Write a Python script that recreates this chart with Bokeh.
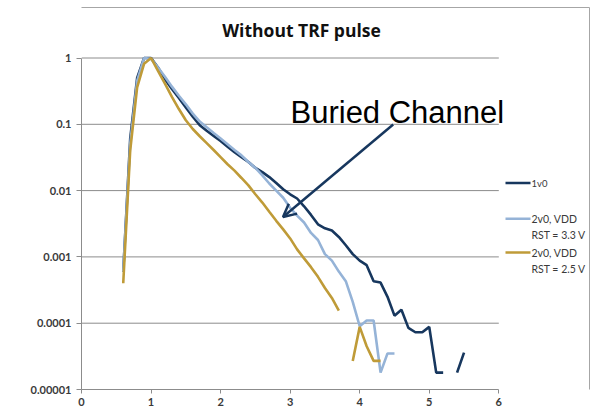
import math
from bokeh.plotting import figure
from bokeh.models import (Range1d, FixedTicker, Label, Arrow, OpenHead)
from bokeh.embed import file_html
from bokeh.resources import INLINE

# ---------------- data ----------------
x_1v0 = [0.6, 0.7, 0.8, 0.9, 1.0, 1.1, 1.2, 1.3, 1.4, 1.5, 1.6, 1.7, 1.8, 1.9, 2.0,
         2.1, 2.2, 2.3, 2.4, 2.5, 2.6, 2.7, 2.8, 2.9, 3.0, 3.1, 3.2, 3.3, 3.4, 3.5,
         3.6, 3.7, 3.8, 3.9, 4.0, 4.1, 4.2, 4.3, 4.4, 4.5, 4.6, 4.7, 4.8, 4.9, 5.0,
         5.1, 5.2, 5.3, 5.4, 5.5]
y_1v0 = [0.0006, 0.06, 0.5, 1.0, 1.0, 0.72, 0.48, 0.34, 0.25, 0.18, 0.13, 0.097, 0.08,
         0.067, 0.056, 0.046, 0.038, 0.032, 0.027, 0.022, 0.019, 0.016, 0.013, 0.0105,
         0.0088, 0.0076, 0.0058, 0.0043, 0.0031, 0.0027, 0.0025, 0.002, 0.0015, 0.0011,
         0.00088, 0.00075, 0.00043, 0.00041, 0.00025, 0.00013, 0.00016, 0.000085,
         0.000073, 0.000073, 0.000088, 0.000018, 0.000018, float("nan"), 0.000018, 0.000036]

x_33 = [0.6, 0.7, 0.8, 0.9, 1.0, 1.1, 1.2, 1.3, 1.4, 1.5, 1.6, 1.7, 1.8, 1.9, 2.0,
        2.1, 2.2, 2.3, 2.4, 2.5, 2.6, 2.7, 2.8, 2.9, 3.0, 3.1, 3.2, 3.3, 3.4, 3.5,
        3.6, 3.7, 3.8, 3.9, 4.0, 4.1, 4.2, 4.3, 4.4, 4.5]
y_33 = [0.0006, 0.05, 0.45, 1.0, 0.97, 0.72, 0.52, 0.37, 0.27, 0.2, 0.145, 0.11, 0.09,
        0.074, 0.061, 0.05, 0.041, 0.034, 0.027, 0.022, 0.017, 0.0128, 0.01, 0.0078,
        0.0055, 0.0042, 0.0033, 0.0023, 0.0018, 0.0011, 0.00088, 0.0006, 0.00043,
        0.00021, 0.00009, 0.00011, 0.00011, 0.000018, 0.000035, 0.000035]

x_25 = [0.6, 0.7, 0.8, 0.9, 1.0, 1.1, 1.2, 1.3, 1.4, 1.5, 1.6, 1.7, 1.8, 1.9, 2.0,
        2.1, 2.2, 2.3, 2.4, 2.5, 2.6, 2.7, 2.8, 2.9, 3.0, 3.1, 3.2, 3.3, 3.4, 3.5,
        3.6, 3.7, 3.8, 3.9, 4.0, 4.1, 4.2, 4.3]
y_25 = [0.0004, 0.04, 0.36, 0.82, 1.0, 0.64, 0.41, 0.26, 0.17, 0.115, 0.085, 0.066,
        0.052, 0.041, 0.032, 0.025, 0.02, 0.0155, 0.012, 0.0088, 0.0066, 0.0048,
        0.0035, 0.0026, 0.0019, 0.0013, 0.00095, 0.0007, 0.0005, 0.00034, 0.00024,
        0.000155, float("nan"), 0.000027, 0.000088, 0.000045, 0.000027, 0.000027]

series_names = ["1v0", "2v0, VDD\nRST = 3.3 V", "2v0, VDD\nRST = 2.5 V"]
x_ticks = [0, 1, 2, 3, 4, 5, 6]
y_ticks = [0.00001, 0.0001, 0.001, 0.01, 0.1, 1]
y_tick_labels = ["0.00001", "0.0001", "0.001", "0.01", "0.1", "1"]

NAVY = "#17375E"
LIGHT = "#95B3D7"
GOLD = "#BF9B38"
GRID = "#8C8C8C"
TXT = "#3A3A3A"
FRAME = "#A6A6A6"

# ---------------- geometry helpers (page pixel -> data) ----------------
X0_PX, X_PER = 81.0, 69.55
Y1_PX, DEC_PX = 57.5, 66.3
def px2x(px):
    return (px - X0_PX) / X_PER
def py2y(py):
    return 10 ** (-(py - Y1_PX) / DEC_PX)

W, H = 592, 416
ML = 81
frame_w = W - ML
frame_h = Y1_PX + 5 * DEC_PX
MB = H - frame_h

p = figure(width=W, height=H, output_backend="svg", toolbar_location=None,
           y_axis_type="log",
           x_range=Range1d(0, frame_w / X_PER),
           y_range=Range1d(1e-5, 10 ** (-5 + frame_h / DEC_PX)),
           min_border_left=ML, min_border_right=0, min_border_top=0,
           min_border_bottom=int(round(MB)))
p.outline_line_color = None
p.xgrid.visible = False
p.ygrid.visible = False
p.background_fill_color = "white"
p.border_fill_color = "white"

# axes
p.xaxis.bounds = (0, 6)
p.xaxis.ticker = FixedTicker(ticks=x_ticks)
p.yaxis.bounds = (1e-5, 1)
p.yaxis.ticker = FixedTicker(ticks=y_ticks)
p.yaxis.major_label_overrides = {t: l for t, l in zip(y_ticks, y_tick_labels)}
for ax in (p.xaxis, p.yaxis):
    ax.axis_line_color = GRID
    ax.major_tick_line_color = GRID
    ax.minor_tick_line_color = None
    ax.major_tick_out = 5
    ax.major_tick_in = 0
    ax.major_label_text_font = "Lato"
    ax.major_label_text_font_size = "11px"
    ax.major_label_text_color = TXT
    ax.major_label_text_font_style = "bold"
p.yaxis.major_label_standoff = 5
p.xaxis.major_label_standoff = 4
p.xaxis.major_tick_out = 4

# horizontal gridlines between x = 0 and 6
g_y = y_ticks[1:]
p.segment(x0=[x_ticks[0]] * len(g_y), x1=[x_ticks[-1]] * len(g_y), y0=g_y, y1=g_y,
          line_color=GRID, line_width=1)

# outer chart frame (top and right edges, visible part)
p.segment(x0=[px2x(70), px2x(589)], x1=[px2x(589), px2x(589)],
          y0=[py2y(7), py2y(7)], y1=[py2y(7), py2y(430)],
          line_color=FRAME, line_width=1)

# series
p.line(x_1v0, y_1v0, line_color=NAVY, line_width=2.6)
p.line(x_33, y_33, line_color=LIGHT, line_width=2.6)
p.line(x_25, y_25, line_color=GOLD, line_width=2.6)

# legend (manual)
leg_colors = [NAVY, LIGHT, GOLD]
leg_py = [182.5, 218.3, 252.0]
for name, c, py in zip(series_names, leg_colors, leg_py):
    yy = py2y(py)
    p.line([px2x(505), px2x(530)], [yy, yy], line_color=c, line_width=2.6)
    lines = name.split("\n")
    for i, t in enumerate(lines):
        p.add_layout(Label(x=px2x(531), y=py2y(py + i * 16), text=t,
                           text_align="left", text_baseline="middle",
                           text_font="Lato",
                           text_font_size="9.5px" if name == "1v0" else "10.5px",
                           text_color=TXT))

# title
p.add_layout(Label(x=px2x(301), y=py2y(29.5), text="Without TRF pulse",
                   text_align="center", text_baseline="middle", text_font="Open Sans",
                   text_font_style="bold", text_font_size="17.5px", text_color="#111111"))

# annotation
p.add_layout(Label(x=px2x(290), y=py2y(112), text="Buried Channel",
                   text_align="left", text_baseline="alphabetic",
                   text_font="Liberation Sans", text_font_size="31px",
                   text_color="black"))
p.add_layout(Arrow(end=OpenHead(size=13, line_color=NAVY, line_width=2.5),
                   x_start=px2x(392.7), y_start=py2y(124),
                   x_end=px2x(282.5), y_end=py2y(216.5),
                   line_color=NAVY, line_width=2.5))

open("out.html", "w").write(file_html(p, INLINE))
